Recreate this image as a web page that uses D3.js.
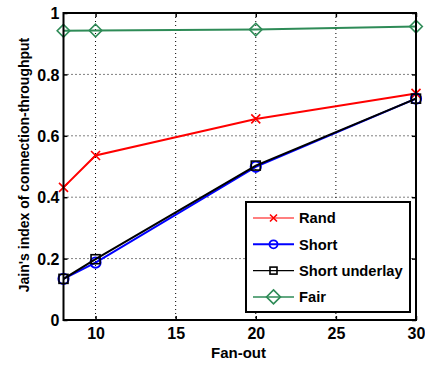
<!DOCTYPE html>
<html><head><meta charset="utf-8">
<script src="https://cdn.jsdelivr.net/npm/d3@7"></script>
<style>body{margin:0;background:#fff}svg{display:block}</style>
</head><body>
<svg id="c" width="425" height="365"></svg>
<script>
const fanout = [8, 10, 20, 30];
const rand = [0.432, 0.536, 0.655, 0.738];
const short = [0.134, 0.187, 0.499, 0.721];
const shortUnderlay = [0.134, 0.198, 0.503, 0.721];
const fair = [0.942, 0.943, 0.946, 0.956];
const xTicks = [10, 15, 20, 25, 30];
const yTicks = [0, 0.2, 0.4, 0.6, 0.8, 1];
const yTickLabels = ["0", "0.2", "0.4", "0.6", "0.8", "1"];
const seriesNames = ["Rand", "Short", "Short underlay", "Fair"];

const series = [
  {name: seriesNames[0], values: rand, color: "#ff0000", marker: "x", w: 2},
  {name: seriesNames[1], values: short, color: "#0000ff", marker: "o", w: 2},
  {name: seriesNames[2], values: shortUnderlay, color: "#000000", marker: "s", w: 2},
  {name: seriesNames[3], values: fair, color: "#2e8b57", marker: "d", w: 2}
];

const svg = d3.select("#c");
const L = 63.5, R = 416, T = 13, B = 320;
const x = d3.scaleLinear().domain([8, 30]).range([L, R]);
const y = d3.scaleLinear().domain([0, 1]).range([B, T]);
const font = "'Liberation Sans', Arial, sans-serif";

// grid
const g = svg.append("g");
g.selectAll(".gx").data(xTicks.filter(d => d < 30)).enter().append("line")
  .attr("x1", d => x(d)).attr("x2", d => x(d)).attr("y1", T).attr("y2", B)
  .attr("stroke", "#000").attr("stroke-width", 1).attr("stroke-dasharray", "1,3");
g.selectAll(".gy").data(yTicks.filter(d => d > 0 && d < 1)).enter().append("line")
  .attr("y1", d => y(d)).attr("y2", d => y(d)).attr("x1", L).attr("x2", R)
  .attr("stroke", "#000").attr("stroke-width", 1).attr("stroke-dasharray", "1,3");

// axes with inward ticks
const ax = svg.append("g").attr("transform", `translate(0,${B})`)
  .call(d3.axisBottom(x).tickValues(xTicks).tickSizeInner(-4).tickSizeOuter(0).tickPadding(8));
const axT = svg.append("g").attr("transform", `translate(0,${T})`)
  .call(d3.axisTop(x).tickValues(xTicks).tickSizeInner(-4).tickSizeOuter(0).tickFormat(""));
const ay = svg.append("g").attr("transform", `translate(${L},0)`)
  .call(d3.axisLeft(y).tickValues(yTicks).tickSizeInner(-4).tickSizeOuter(0).tickPadding(4)
    .tickFormat((d, i) => yTickLabels[i]));
const ayR = svg.append("g").attr("transform", `translate(${R},0)`)
  .call(d3.axisRight(y).tickValues(yTicks).tickSizeInner(-4).tickSizeOuter(0).tickFormat(""));
[ax, axT, ay, ayR].forEach(a => {
  a.select(".domain").remove();
  a.selectAll(".tick line").attr("stroke", "#000").attr("stroke-width", 1.5);
  a.selectAll("text").attr("font-family", font).attr("font-weight", "bold")
    .attr("font-size", 16).attr("fill", "#000");
});
ay.selectAll("text").attr("dy", "0.35em");

// lines
const line = d3.line().x((d, i) => x(fanout[i])).y(d => y(d));
function marker(sel, type, cx, cy, color, s) {
  if (type === "x") {
    sel.append("path").attr("d", `M${cx-s},${cy-s}L${cx+s},${cy+s}M${cx-s},${cy+s}L${cx+s},${cy-s}`)
      .attr("stroke", color).attr("stroke-width", 1.6).attr("fill", "none");
  } else if (type === "o") {
    sel.append("circle").attr("cx", cx).attr("cy", cy).attr("r", s * 1.15)
      .attr("stroke", color).attr("stroke-width", 1.8).attr("fill", "none");
  } else if (type === "s") {
    sel.append("rect").attr("x", cx - s).attr("y", cy - s).attr("width", 2 * s).attr("height", 2 * s)
      .attr("stroke", color).attr("stroke-width", 1.6).attr("fill", "none");
  } else if (type === "d") {
    const r = s * 1.4;
    sel.append("path").attr("d", `M${cx},${cy-r}L${cx+r},${cy}L${cx},${cy+r}L${cx-r},${cy}Z`)
      .attr("stroke", color).attr("stroke-width", 1.6).attr("fill", "none");
  }
}
const plot = svg.append("g");
series.forEach(s => {
  plot.append("path").attr("d", line(s.values)).attr("fill", "none")
    .attr("stroke", s.color).attr("stroke-width", s.w);
  s.values.forEach((v, i) => marker(plot, s.marker, x(fanout[i]), y(v), s.color, 4.5));
});

// frame
svg.append("rect").attr("x", L).attr("y", T).attr("width", R - L).attr("height", B - T)
  .attr("fill", "none").attr("stroke", "#000").attr("stroke-width", 2);

// legend
const lg = svg.append("g");
lg.append("rect").attr("x", 246).attr("y", 202).attr("width", 164).attr("height", 110)
  .attr("fill", "#fff").attr("stroke", "#000").attr("stroke-width", 2);
const lw = [1.2, 2, 1.2, 1.5];
series.forEach((s, i) => {
  const yy = 218 + i * 26.3;
  lg.append("line").attr("x1", 253).attr("x2", 294).attr("y1", yy).attr("y2", yy)
    .attr("stroke", s.color).attr("stroke-width", lw[i]);
  marker(lg, s.marker, 273.5, yy, s.color, s.marker === "d" ? 5 : 3.5);
  lg.append("text").attr("x", 299).attr("y", yy).attr("dy", "0.36em")
    .attr("font-family", font).attr("font-weight", "bold").attr("font-size", 14.7)
    .text(s.name);
});

// axis titles
svg.append("text").attr("x", 238.5).attr("y", 353).attr("dy", "0.35em")
  .attr("text-anchor", "middle").attr("font-family", font).attr("font-weight", "bold")
  .attr("font-size", 15).text("Fan-out");
svg.append("text").attr("transform", `translate(24,165) rotate(-90)`)
  .attr("dy", "0.35em").attr("text-anchor", "middle").attr("font-family", font)
  .attr("font-weight", "bold").attr("font-size", 14).text("Jain's index of connection-throughput");
</script>
</body></html>
